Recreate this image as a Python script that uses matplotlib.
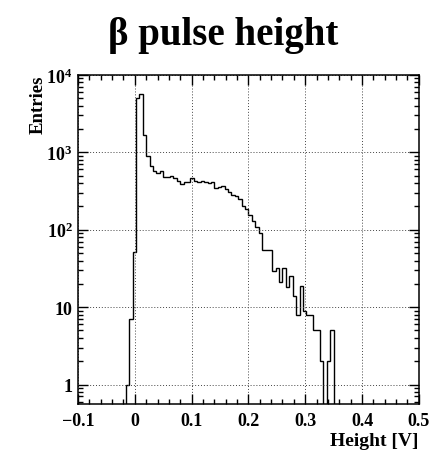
import numpy as np
import matplotlib
matplotlib.use('Agg')
import matplotlib.pyplot as plt
import matplotlib.ticker as ticker

plt.rcParams.update({
    'font.family': ['Liberation Serif', 'DejaVu Serif'],
    'font.weight': 'bold',
    'mathtext.fontset': 'custom',
    'mathtext.rm': 'Liberation Serif:bold',
    'mathtext.it': 'Liberation Serif:bold',
    'mathtext.bf': 'Liberation Serif:bold',
})

# histogram: 100 bins from -0.1 to 0.5 V
x_min, x_max, n_bins = -0.1, 0.5, 100
first_bin = 14  # bin with left edge -0.016
counts = [
    1, 7, 52, 5000, 5700, 1680, 900, 660, 577, 535,
    570, 475, 478, 497, 465, 432, 390, 408, 417, 460,
    429, 408, 429, 417, 401, 410, 350, 355, 366, 335,
    305, 285, 275, 252, 203, 186, 157, 128, 110, 92,
    55, 55, 54, 29, 32, 21, 32, 18, 25, 14,
    8, 19, 9, 8, 8, 5, 5, 2, 0, 2,
    5,
]
x_ticks = [-0.1, 0, 0.1, 0.2, 0.3, 0.4, 0.5]
x_tick_labels = ['\u22120.1', '0', '0.1', '0.2', '0.3', '0.4', '0.5']
y_ticks = [1, 10, 100, 1000, 10000]
y_tick_labels = ['1', '10', '$10^{2}$', '$10^{3}$', '$10^{4}$']

edges = np.linspace(x_min, x_max, n_bins + 1)
values = np.zeros(n_bins)
values[first_bin:first_bin + len(counts)] = counts

fig = plt.figure(figsize=(4.46, 4.52), dpi=100)
ax = fig.add_axes([0.175, 0.104, 0.764, 0.728])

ax.stairs(values, edges, color='black', linewidth=1.0, baseline=None)

ax.set_yscale('log')
ax.set_xlim(x_min, x_max)
ax.set_ylim(0.56, 10000)

ax.set_xticks(x_ticks)
ax.set_xticklabels(x_tick_labels)
ax.xaxis.set_minor_locator(ticker.MultipleLocator(0.02))
ax.set_yticks(y_ticks)
ax.set_yticklabels(y_tick_labels)
ax.yaxis.set_minor_locator(ticker.LogLocator(base=10, subs=np.arange(2, 10)))
ax.yaxis.set_minor_formatter(ticker.NullFormatter())

ax.tick_params(which='both', direction='in', top=True, right=True,
               labelsize=13, width=1)
ax.tick_params(which='major', length=7)
ax.tick_params(which='minor', length=3.5)
ax.tick_params(axis='x', pad=6)
ax.tick_params(axis='y', pad=4)

ax.grid(True, which='major', linestyle=(0, (1, 2)), linewidth=0.7,
        color='#444444')
for s in ax.spines.values():
    s.set_linewidth(1.1)

fig.text(0.5, 1 - 45 / 452, '\u03b2 pulse height', fontsize=28,
         fontweight='bold', ha='center', va='baseline')
ax.set_xlabel('Height [V]', fontsize=14, fontweight='bold', loc='right',
              labelpad=2)
ax.set_ylabel('Entries', fontsize=13.5, fontweight='bold', loc='top',
              labelpad=0)

plt.savefig('out.png', dpi=100)
